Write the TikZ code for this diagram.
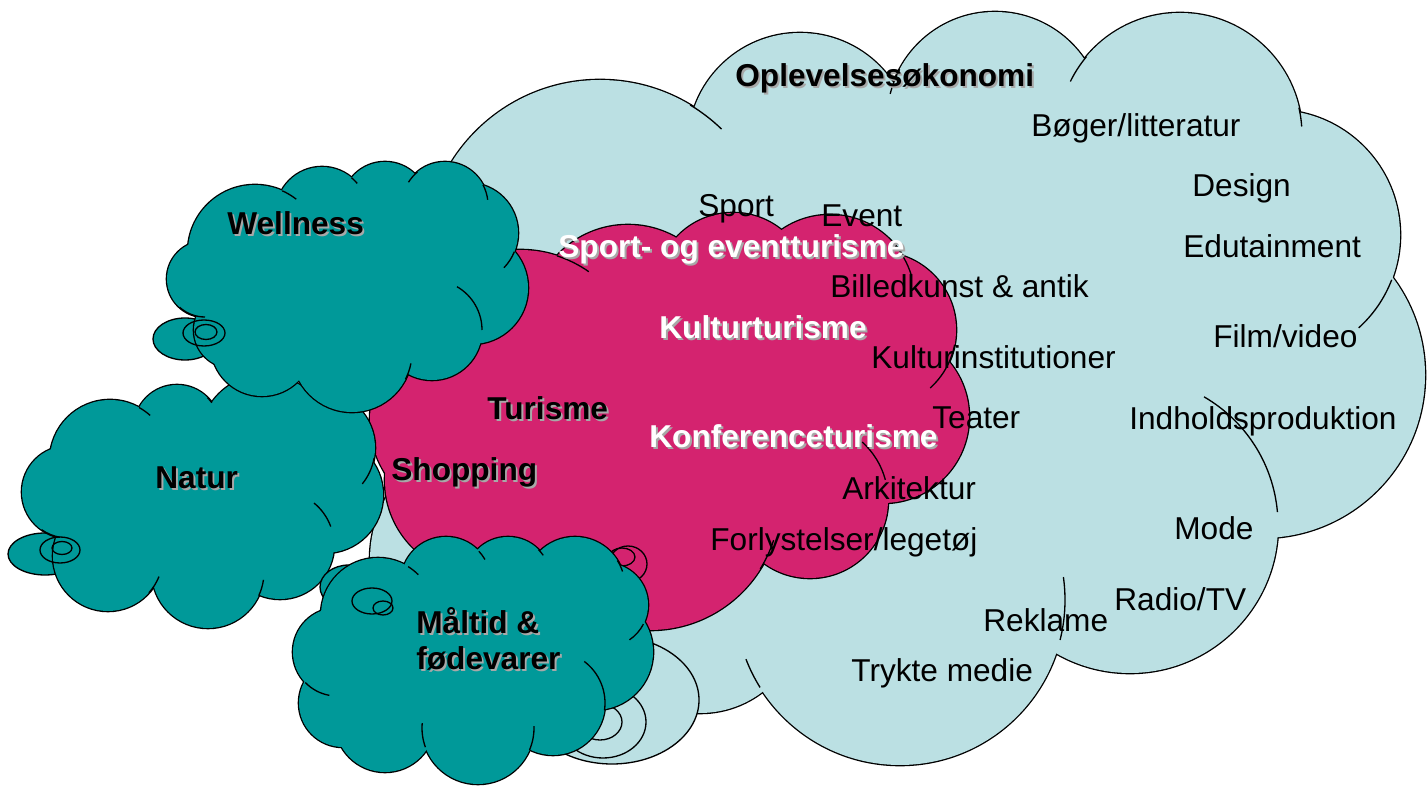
\documentclass[tikz,border=0pt]{standalone}
\usepackage{fontspec}
\setmainfont{Liberation Sans}
\definecolor{oplev}{HTML}{BBE0E3}
\definecolor{turis}{HTML}{D4236F}
\definecolor{natur}{HTML}{009999}
\definecolor{skygge}{HTML}{A8A8A8}
% text with a small grey shadow
\newcommand{\skyg}[1]{\rlap{\kern1.1pt\raisebox{-1.1pt}{\textcolor{skygge}{#1}}}#1}
% a cloud: colour, lobes x/y/r, inner filling
\newcommand{\puffs}[3]{%
  \foreach \cx/\cy/\rr in {#2} {\draw[puff] (\cx,\cy) circle[radius=\rr];}
  \foreach \cx/\cy/\rr in {#2} {\fill[#1] (\cx,\cy) circle[radius=\rr];}
  \fill[#1] #3;}
\newcommand{\ticks}[1]{%
  \foreach \cx/\cy/\rr/\fra/\til in {#1}
    {\draw[tick] (\cx,\cy) ++(\fra:\rr) arc[start angle=\fra, end angle=\til, radius=\rr];}}
\tikzset{
  puff/.style={draw=black, line width=1.5pt},
  tick/.style={draw=black, line width=0.75pt},
  tail/.style={draw=black, line width=0.75pt},
  txt/.style={anchor=base west, inner sep=0pt, font=\fontsize{18}{20.5}\selectfont},
  btxt/.style={txt, font=\fontsize{18}{20.5}\selectfont\bfseries},
  wtxt/.style={btxt, text=white},
}

\begin{document}
\begin{tikzpicture}[x=0.02cm, y=-0.02cm]
  \useasboundingbox (0,0) rectangle (1427,786);
  \fill[white] (0,0) rectangle (1427,786);

  % Oplevelsesoekonomi
  \puffs{oplev}{600/255/175, 800/145/112, 995/120/108, 1180/135/122, 1275/235/125,
    1262/375/163, 1130/525/148, 900/600/165, 700/610/103, 500/560/130, 470/370/100}
    {(880,380) ellipse[x radius=380, y radius=260]}
  \ticks{600/255/175/-59/-46, 995/120/108/194/208, 1180/135/122/206/220,
    1180/135/122/-13/-4, 1275/235/125/21/48, 1130/525/148/-60/-5,
    900/600/165/-8/14, 900/600/165/148/159}
  \filldraw[tail, fill=oplev] (612,700) ellipse[x radius=87, y radius=64];
  \draw[tail] (603,722) ellipse[x radius=43, y radius=36];
  \draw[tail] (600,722) ellipse[x radius=22, y radius=18];

  % Turisme
  \puffs{turis}{520/370/120, 628/322/97, 733/290/77, 830/300/85, 878/330/78,
    883/417/86, 810/500/78, 650/500/130, 470/420/100, 480/480/95}
    {(660,410) ellipse[x radius=220, y radius=150]}
  \ticks{520/370/120/-72/-55, 830/300/85/-41/-17, 878/330/78/11/48,
    810/500/78/-48/-15, 650/500/130/18/32}
  \filldraw[tail, fill=turis] (628,564) ellipse[x radius=19, y radius=18];
  \draw[tail] (622,557) ellipse[x radius=13, y radius=9];

  % Natur
  \filldraw[tail, fill=natur] (45,554) ellipse[x radius=37, y radius=21];
  \puffs{natur}{110/460/60, 177/428/43, 265/440/65, 318/448/57, 325/495/58,
    280/545/54, 208/572/56, 108/556/55, 68/492/46}
    {(200,500) ellipse[x radius=130, y radius=80]}
  \ticks{110/460/60/-61/-48, 177/428/43/-45/-36, 318/448/57/10/39,
    280/545/54/-51/-20, 208/572/56/8/25, 108/556/55/22/42, 68/492/46/100/125}
  \draw[tail] (60,550) ellipse[x radius=20, y radius=13];
  \draw[tail] (62,548) ellipse[x radius=10, y radius=6.5];

  % Wellness
  \filldraw[tail, fill=natur] (185,339) ellipse[x radius=32, y radius=21];
  \puffs{natur}{255/252/67, 322/213/46, 385/205/43, 445/205/43, 468/233/50,
    472/288/56, 432/330/50, 352/352/60, 262/345/51, 205/279/38, 232/330/38}
    {(345,290) ellipse[x radius=140, y radius=90]}
  \ticks{255/252/67/-66/-52, 322/213/46/-50/-40, 445/205/43/212/230,
    445/205/43/-28/-7, 468/233/50/22/44, 432/330/50/-60/0, 352/352/60/11/27,
    205/279/38/90/132}
  \draw[tail] (204,333) ellipse[x radius=21, y radius=13];
  \draw[tail] (206,332) ellipse[x radius=11, y radius=7.5];

  % Maaltid
  \filldraw[tail, fill=natur] (349,587) ellipse[x radius=29, y radius=22];
  \puffs{natur}{378/615/57, 446/582/45, 508/580/43, 575/587/50, 606/605/42,
    595/652/58, 553/703/52, 478/728/56, 385/722/50, 343/703/44, 337/652/44}
    {(470,660) ellipse[x radius=130, y radius=80]}
  \ticks{378/615/57/-58/-45, 446/582/45/-43/-30, 508/580/43/-45/-35,
    575/587/50/-32/-18, 606/605/42/27/56, 553/703/52/-53/8, 478/728/56/-2/23,
    478/728/56/160/185, 337/652/44/100/136}
  \draw[tail] (372,601) ellipse[x radius=20, y radius=13];
  \draw[tail] (383,608) ellipse[x radius=10, y radius=7];

  \node[btxt] (oplevelse) at (735,87) {\skyg{Oplevelsesøkonomi}};
  \node[txt] (boger) at (1031,137) {Bøger/litteratur};
  \node[txt] (design) at (1192,197) {Design};
  \node[txt] (edutain) at (1183,258) {Edutainment};
  \node[txt] (film) at (1213,348) {Film/video};
  \node[txt] (indhold) at (1129,430) {Indholdsproduktion};
  \node[txt] (mode) at (1174,540) {Mode};
  \node[txt] (radio) at (1114,611) {Radio/TV};
  \node[txt] (reklame) at (983,632) {Reklame};
  \node[txt] (trykte) at (851,682) {Trykte medie};
  \node[txt] (forlyst) at (710,551) {Forlystelser/legetøj};
  \node[txt] (arki) at (842,500) {Arkitektur};
  \node[txt] (teater) at (932,429) {Teater};
  \node[txt] (kulturinst) at (871,369) {Kulturinstitutioner};
  \node[txt] (billed) at (830,298) {Billedkunst \& antik};
  \node[txt] (sport) at (698,217) {Sport};
  \node[txt] (event) at (821,227) {Event};
  \node[wtxt] (sportturisme) at (558,258) {\skyg{Sport- og eventturisme}};
  \node[wtxt] (kultur) at (659,339) {\skyg{Kulturturisme}};
  \node[wtxt] (konference) at (649,448) {\skyg{Konferenceturisme}};
  \node[btxt] (turisme) at (487,420) {\skyg{Turisme}};
  \node[btxt] (shopping) at (391,481) {\skyg{Shopping}};
  \node[btxt] (wellness) at (227,235) {\skyg{Wellness}};
  \node[btxt] (natur) at (155,489) {\skyg{Natur}};
  \node[btxt, align=left] (maaltid) at (416,670) {\skyg{Måltid \&}\\\skyg{fødevarer}};
\end{tikzpicture}
\end{document}
